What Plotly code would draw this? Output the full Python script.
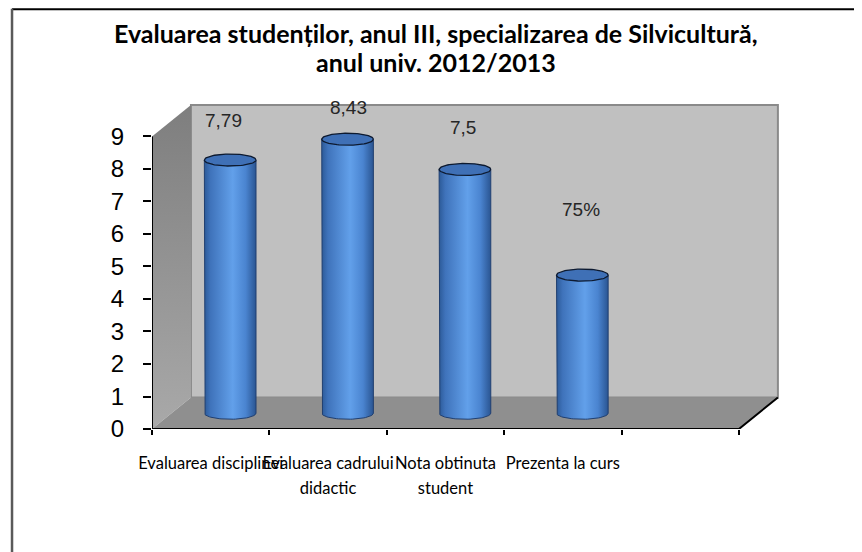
import numpy as np
import plotly.graph_objects as go

# ---------------- data ----------------
categories = ["Evaluarea disciplinei", "Evaluarea cadrului|didactic", "Nota obtinuta|student", "Prezenta la curs", ""]
values = [7.79, 8.43, 7.5, 4.25]
value_labels = ["7,79", "8,43", "7,5", "75%"]
y_ticks = list(range(0, 10))
title_lines = ["Evaluarea studenților, anul III, specializarea de Silvicultură,", "anul univ. 2012/2013"]

# ---------------- layout constants ----------------
PAGE_OFF = 8  # default page body margin
FIG_W, FIG_H = 862 - PAGE_OFF, 552 - PAGE_OFF
L_PX, R_PX, T_PX, B_PX = 152 - PAGE_OFF, 780.1 - PAGE_OFF, 102.3 - PAGE_OFF, 429.3 - PAGE_OFF
X_MIN, X_MAX = -0.5, 4.85
Y_MIN, Y_MAX = 0.0, 10.06
DEPTH_X, DEPTH_Y = 0.332, 0.97
BAR_HALF_W = 0.22
ELL_B = 0.185
LABEL_LIFT = [1.205, 0.965, 1.295, 2.015]
LABEL_DX = [-0.057, 0.012, -0.019, -0.009]
N_SLOTS = len(categories)


def px_x(p):
    return (p - PAGE_OFF - L_PX) / (R_PX - L_PX)


def px_y(p):
    return (B_PX - (p - PAGE_OFF)) / (B_PX - T_PX)


fig = go.Figure()

# ---------------- 3D box (walls / floor) on base axis ----------------
x_front0, x_front1 = -0.5, N_SLOTS - 0.5
x_back0, x_back1 = x_front0 + DEPTH_X, x_front1 + DEPTH_X
y_top = max(y_ticks)

# back wall
fig.add_trace(go.Scatter(
    x=[x_back0, x_back1, x_back1, x_back0, x_back0],
    y=[DEPTH_Y, DEPTH_Y, y_top + DEPTH_Y, y_top + DEPTH_Y, DEPTH_Y],
    fill="toself", fillcolor="#c0c0c0", mode="lines",
    line=dict(color="#8a8a8a", width=2), hoverinfo="skip", xaxis="x", yaxis="y"))
# side wall
fig.add_trace(go.Scatter(
    x=[x_front0, x_back0, x_back0, x_front0, x_front0],
    y=[0, DEPTH_Y, y_top + DEPTH_Y, y_top, 0],
    fill="toself", mode="lines", line=dict(width=0, color="rgba(0,0,0,0)"),
    fillgradient=dict(type="vertical", colorscale=[[0, "#a9a9a9"], [1, "#7e7e7e"]]),
    hoverinfo="skip", xaxis="x", yaxis="y"))
# floor
fig.add_trace(go.Scatter(
    x=[x_front0, x_front1, x_back1, x_back0, x_front0],
    y=[0, 0, DEPTH_Y, DEPTH_Y, 0],
    fill="toself", fillcolor="#8f8f8f", mode="lines",
    line=dict(width=0, color="rgba(0,0,0,0)"), hoverinfo="skip", xaxis="x", yaxis="y"))

# axis lines / floor edges (middle overlay)
fig.add_trace(go.Scatter(
    x=[x_front0, x_front0, None, x_front0, x_front1, x_back1],
    y=[y_top, 0, None, 0, 0, DEPTH_Y],
    mode="lines", line=dict(color="#000000", width=2), hoverinfo="skip",
    xaxis="x2", yaxis="y"))

# ---------------- cylinders (top overlay) ----------------
body_scale = [[0, "#2c5a98"], [0.12, "#3f73bb"], [0.55, "#62a0ea"], [0.8, "#4a84d0"], [1, "#2a5592"]]
t_half = np.linspace(np.pi, 2 * np.pi, 40)
t_full = np.linspace(0, 2 * np.pi, 80)
for i, v in enumerate(values):
    cx = i + DEPTH_X / 2
    base = DEPTH_Y / 2
    top = base + v
    bx = np.concatenate([[cx - BAR_HALF_W], cx + BAR_HALF_W * np.cos(t_half), [cx + BAR_HALF_W, cx - BAR_HALF_W]])
    by = np.concatenate([[top], base + ELL_B * np.sin(t_half), [top, top]])
    fig.add_trace(go.Scatter(
        x=bx, y=by, fill="toself", mode="lines",
        fillgradient=dict(type="horizontal", colorscale=body_scale),
        line=dict(color="#203f70", width=1), hoverinfo="skip", xaxis="x3", yaxis="y"))
    fig.add_trace(go.Scatter(
        x=cx + BAR_HALF_W * np.cos(t_full), y=top + ELL_B * np.sin(t_full),
        fill="toself", fillcolor="#3f70b6", mode="lines",
        line=dict(color="#0d1a30", width=1.3), hoverinfo="skip", xaxis="x3", yaxis="y"))
    fig.add_annotation(
        x=cx + LABEL_DX[i], y=top + LABEL_LIFT[i], xref="x3", yref="y",
        text=value_labels[i], showarrow=False,
        font=dict(family="Liberation Sans, Arial", size=19, color="#262626"))

# ---------------- titles ----------------
for k, (line, ypx) in enumerate(zip(title_lines, [33, 62])):
    fig.add_annotation(
        x=px_x(436.5), y=px_y(ypx), xref="paper", yref="paper",
        text="<b>%s</b>" % line, showarrow=False, xanchor="center", yanchor="middle",
        font=dict(family="Lato, Carlito, Calibri, sans-serif", size=25, color="#000000"))

# ---------------- outer border ----------------
fig.add_shape(type="line", xref="paper", yref="paper",
              x0=px_x(12), x1=px_x(870), y0=px_y(9.5), y1=px_y(9.5),
              line=dict(color="#000000", width=2))
fig.add_shape(type="line", xref="paper", yref="paper",
              x0=px_x(12), x1=px_x(12), y0=px_y(9), y1=px_y(560),
              line=dict(color="#5a5a5a", width=2.5))

first_lines = [c.split("|")[0] for c in categories]
second_lines = [c.split("|")[1] if "|" in c else "" for c in categories]
slot_centers = list(range(N_SLOTS))
boundaries = [b - 0.5 for b in range(N_SLOTS + 1)]

label_font = dict(family="Lato, Carlito, Calibri, sans-serif", size=16.5, color="#000000")
common = dict(range=[X_MIN, X_MAX], showline=False, showgrid=False, zeroline=False,
              fixedrange=True, automargin=False)

fig.update_layout(
    width=FIG_W, height=FIG_H,
    margin=dict(l=L_PX, r=FIG_W - R_PX, t=T_PX, b=FIG_H - B_PX, pad=0, autoexpand=False),
    paper_bgcolor="#ffffff", plot_bgcolor="rgba(0,0,0,0)",
    showlegend=False, hovermode=False,
    xaxis=dict(tickvals=boundaries, ticktext=[""] * len(boundaries),
               ticks="outside", ticklen=5, tickwidth=1.5, tickcolor="#000000", **common),
    xaxis2=dict(overlaying="x", anchor="y", side="bottom",
                tickvals=slot_centers, ticktext=first_lines, ticks="", tickangle=0,
                ticklabelstandoff=22, tickfont=label_font, **common),
    xaxis3=dict(overlaying="x", anchor="y", side="bottom",
                tickvals=slot_centers, ticktext=second_lines, ticks="", tickangle=0,
                ticklabelstandoff=47, tickfont=label_font, **common),
    yaxis=dict(range=[Y_MIN, Y_MAX], tickvals=y_ticks, ticktext=[str(t) for t in y_ticks],
               ticks="outside", ticklen=8, tickwidth=1.5, tickcolor="#000000",
               ticklabelstandoff=14, automargin=False,
               tickfont=dict(family="Liberation Sans, Arial", size=24, color="#000000"),
               showline=False, showgrid=False, zeroline=False, fixedrange=True),
)

fig.write_html("out.html")
